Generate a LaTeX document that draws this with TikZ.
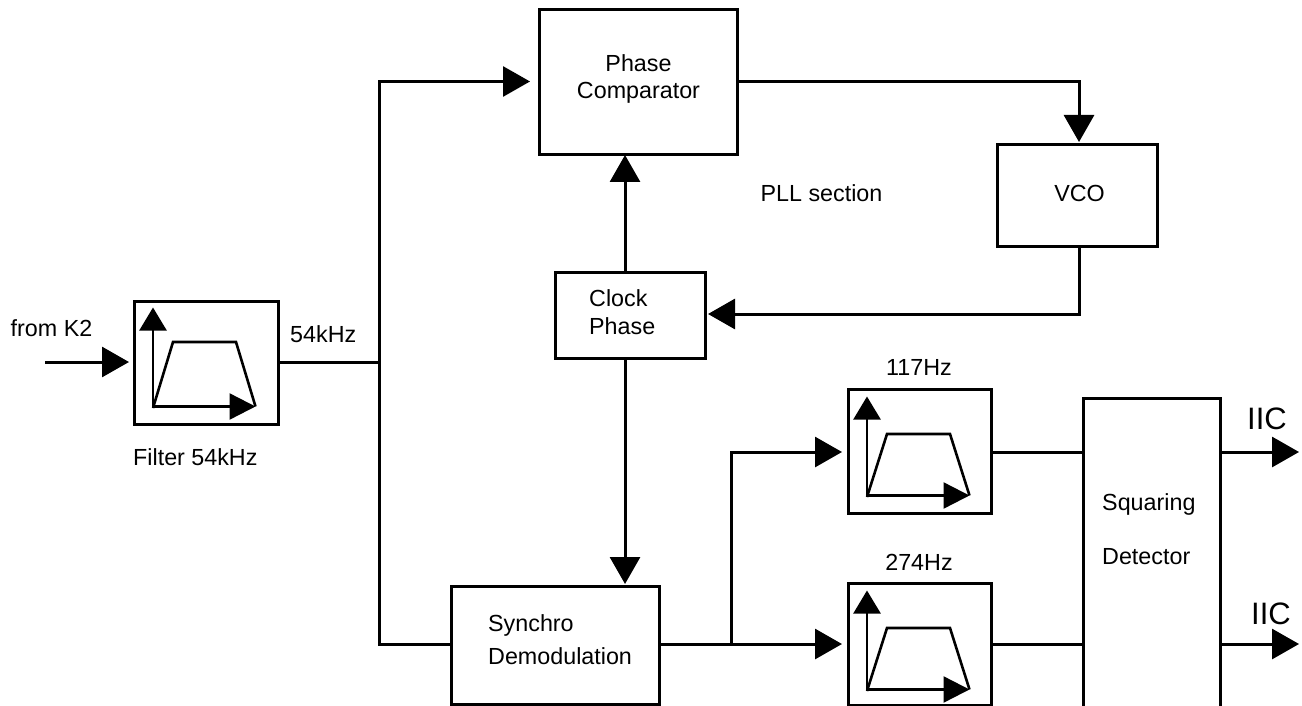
\documentclass[tikz,border=0pt]{standalone}
\usepackage{fontspec}
\setmainfont{Liberation Sans}
\usetikzlibrary{arrows.meta}
\tikzset{
  x=1pt,y=-1pt,
  box/.style={draw=black,line width=3pt,fill=white,inner sep=0pt,outer sep=0pt,anchor=north west},
  wire/.style={draw=black,line width=3pt,line join=miter},
  arr/.style={wire,-{Triangle[length=27pt,width=30pt]}},
  uparr/.style={draw=black,line width=2.4pt,-{Triangle[length=23pt,width=27pt]}},
  rightarr/.style={draw=black,line width=2.4pt,-{Triangle[length=26pt,width=26pt]}},
  curve/.style={draw=black,line width=2.6pt,line join=miter},
  lab/.style={font=\fontsize{23.3}{24}\selectfont,inner sep=0pt,text=black},
  big/.style={font=\fontsize{31}{34}\selectfont,inner sep=0pt,text=black},
  pics/filtericon/.style={code={
    \path[curve] (0,0) -- (20,-#1) -- (83,-#1) -- (102.5,-1.5);
    \path[uparr] (0,0) -- (0,-100.5);
    \path[rightarr] (-1.2,-1.5) -- (102.5,-1.5);
  }}
}
\begin{document}
\begin{tikzpicture}
\useasboundingbox (0,0) rectangle (1302,706);
\node[box,minimum width=198pt,minimum height=145pt] (phase) at (539,10) {};
\node[box,minimum width=160pt,minimum height=101pt] (vco) at (997,145) {};
\node[box,minimum width=150pt,minimum height=86pt] (clock) at (555,272) {};
\node[box,minimum width=208pt,minimum height=118pt] (synchro) at (451,586) {};
\node[box,minimum width=144pt,minimum height=123pt] (filter) at (134,301) {};
\node[box,minimum width=143pt,minimum height=124pt] (bpa) at (848,389) {};
\node[box,minimum width=143pt,minimum height=122pt] (bpb) at (848,583) {};
\node[box,minimum width=137pt,minimum height=320pt] (sq) at (1083,398) {};

\coordinate (in) at (45,362);
\coordinate (j1) at (379,362);
\coordinate (j1up) at (379,81.5);
\coordinate (j1dn) at (379,644);
\coordinate (j2) at (731,644);
\coordinate (j2up) at (731,452);
\coordinate (vcoin) at (1079,81.5);
\coordinate (vcoout) at (1079,314);
\coordinate (cu) at (625,272);
\coordinate (cd) at (625,358);
\coordinate (pb) at (625,155);
\coordinate (sb) at (625,586);
\coordinate (o1b) at (1299,452);
\coordinate (o2b) at (1299,644);

\draw[arr,shorten >=5pt] (in) -- (filter.west |- in);
\draw[wire] (filter.east |- in) -- (j1);
\draw[wire] (j1) -- (j1dn) -- (synchro.west |- j1dn);
\draw[arr,shorten >=9pt] (j1) -- (j1up) -- (phase.west |- j1up);
\draw[arr,shorten >=3pt] (phase.east |- j1up) -- (vcoin) -- (vco.north -| vcoin);
\draw[arr,shorten >=3pt] (vco.south -| vcoin) -- (vcoout) -- (clock.east |- vcoout);
\draw[arr] (cu) -- (pb);
\draw[arr,shorten >=2pt] (cd) -- (sb);
\draw[wire] (synchro.east |- j2) -- (j2);
\draw[arr,shorten >=6pt] (j2) -- (bpb.west |- j2);
\draw[arr,shorten >=6pt] (j2) -- (j2up) -- (bpa.west |- j2up);
\draw[wire] (bpa.east |- j2up) -- (sq.west |- j2up);
\draw[wire] (bpb.east |- j2) -- (sq.west |- j2);
\draw[arr] (sq.east |- o1b) -- (o1b);
\draw[arr] (sq.east |- o2b) -- (o2b);

\pic at (153,408) {filtericon=66};
\pic at (867,497) {filtericon=63};
\pic at (867,691) {filtericon=63};

\node[lab,align=center] (tphase) at (638.5,79) {Phase\\[3pt]Comparator};
\node[lab] (tvco) at (1079.5,193) {VCO};
\node[lab,align=left,anchor=west] (tclock) at (589,312) {Clock\\[4pt]Phase};
\node[lab,align=left,anchor=west] (tsyn) at (488,640) {Synchro\\[9pt]Demodulation};
\node[lab,align=left,anchor=west] (tsq) at (1102,529) {Squaring\\[30pt]Detector};
\node[lab] (tpll) at (821.5,193) {PLL section};
\node[lab,anchor=west] (tk2) at (10.5,328) {from K2};
\node[lab,anchor=west] (t54) at (290,334) {54kHz};
\node[lab,anchor=west] (tf) at (133,457) {Filter 54kHz};
\node[lab] (t117) at (919,367) {117Hz};
\node[lab] (t274) at (919,562) {274Hz};
\node[big,anchor=west] (i1) at (1247,419) {IIC};
\node[big,anchor=west] (i2) at (1251,614) {IIC};
\end{tikzpicture}
\end{document}
